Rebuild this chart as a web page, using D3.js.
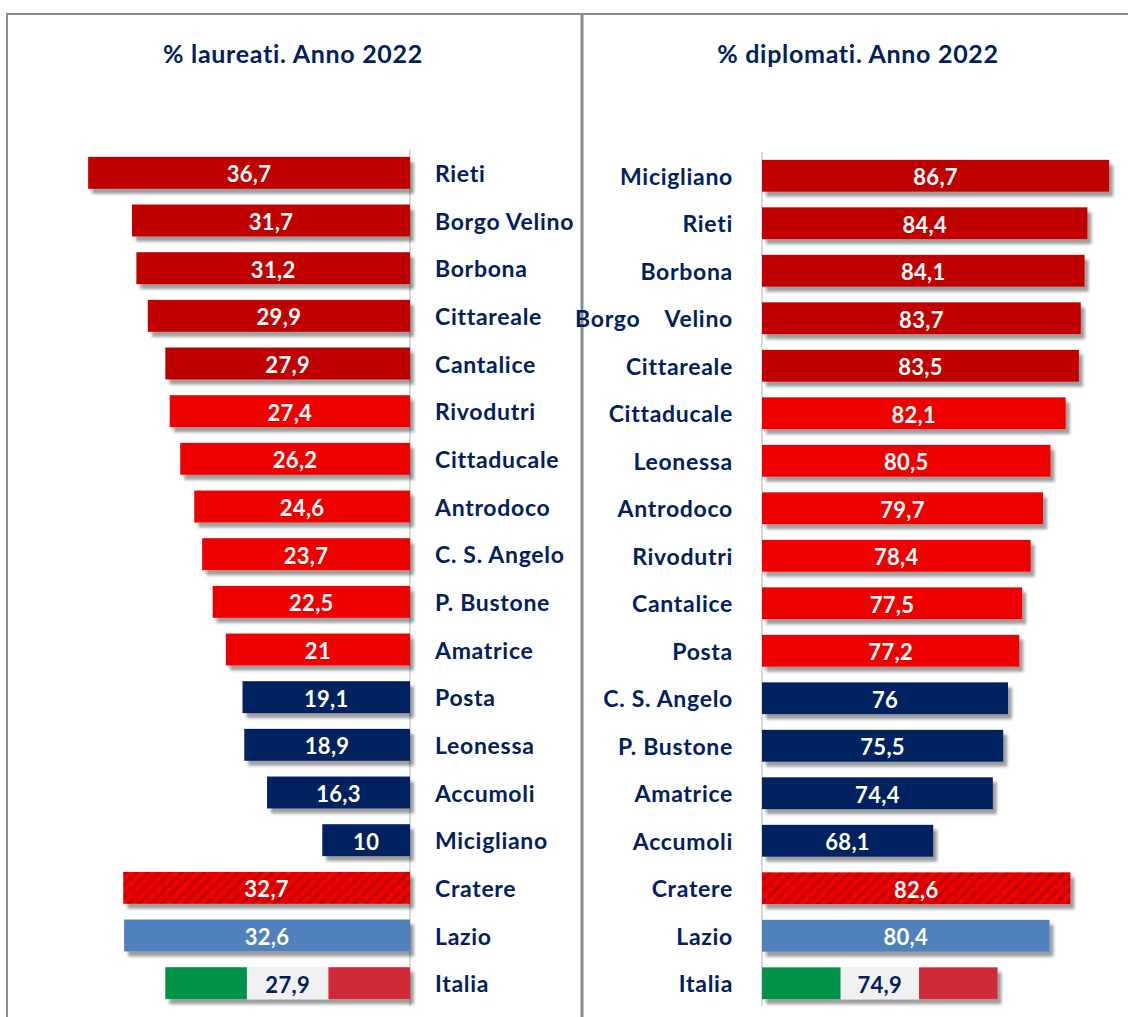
<!DOCTYPE html>
<html>
<head>
<meta charset="utf-8">
<script src="https://cdn.jsdelivr.net/npm/d3@7"></script>
<style>
  body { margin: 0; background: #fff; }
  text { font-family: Lato, "Open Sans", sans-serif; font-weight: bold; }
</style>
</head>
<body>
<div id="chart"></div>
<script>
// data: left panel (% laureati)
var laureatiCats = ["Rieti", "Borgo Velino", "Borbona", "Cittareale", "Cantalice", "Rivodutri",
  "Cittaducale", "Antrodoco", "C. S. Angelo", "P. Bustone", "Amatrice", "Posta", "Leonessa",
  "Accumoli", "Micigliano", "Cratere", "Lazio", "Italia"];
var laureatiVals = [36.7, 31.7, 31.2, 29.9, 27.9, 27.4, 26.2, 24.6, 23.7, 22.5, 21, 19.1, 18.9,
  16.3, 10, 32.7, 32.6, 27.9];

// data: right panel (% diplomati)
var diplomatiCats = ["Micigliano", "Rieti", "Borbona", "Borgo    Velino", "Cittareale", "Cittaducale",
  "Leonessa", "Antrodoco", "Rivodutri", "Cantalice", "Posta", "C. S. Angelo", "P. Bustone",
  "Amatrice", "Accumoli", "Cratere", "Lazio", "Italia"];
var diplomatiVals = [86.7, 84.4, 84.1, 83.7, 83.5, 82.1, 80.5, 79.7, 78.4, 77.5, 77.2, 76, 75.5,
  74.4, 68.1, 82.6, 80.4, 74.9];

// colour group of each row (same order on both panels)
var rowGroups = ["alto", "alto", "alto", "alto", "alto", "medio", "medio", "medio", "medio", "medio",
  "medio", "basso", "basso", "basso", "basso", "cratere", "lazio", "italia"];

var titles = ["% laureati. Anno 2022", "% diplomati. Anno 2022"];

var W = 1128, H = 1017;
var navy = "#002060";

var color = d3.scaleOrdinal()
  .domain(["alto", "medio", "basso", "cratere", "lazio"])
  .range(["#c00000", "#ee0000", navy, "url(#hatch)", "#4f81bd"]);

var svg = d3.select("#chart").append("svg")
  .attr("width", W)
  .attr("height", H);

var defs = svg.append("defs");

// drop shadow like the excel bars
var f = defs.append("filter").attr("id", "shadow")
  .attr("x", "-10%").attr("y", "-30%").attr("width", "130%").attr("height", "190%");
f.append("feDropShadow")
  .attr("dx", 4).attr("dy", 5).attr("stdDeviation", 1.6)
  .attr("flood-color", "#000").attr("flood-opacity", 0.38);

// hatch for Cratere
var pat = defs.append("pattern").attr("id", "hatch")
  .attr("patternUnits", "userSpaceOnUse")
  .attr("width", 8).attr("height", 8)
  .attr("patternTransform", "rotate(45)");
pat.append("rect").attr("width", 8).attr("height", 8).attr("fill", "#ee0000");
pat.append("line").attr("x1", 1.5).attr("y1", 0).attr("x2", 1.5).attr("y2", 8)
  .attr("stroke", "#c00000").attr("stroke-width", 3);

// frame
svg.append("line").attr("x1", 6).attr("x2", W).attr("y1", 14).attr("y2", 14)
  .attr("stroke", "#8c8c8c").attr("stroke-width", 2);
svg.append("line").attr("x1", 7).attr("x2", 7).attr("y1", 14).attr("y2", H)
  .attr("stroke", "#8c8c8c").attr("stroke-width", 2);
svg.append("line").attr("x1", 582).attr("x2", 582).attr("y1", 14).attr("y2", H)
  .attr("stroke", "#8c8c8c").attr("stroke-width", 3);

// titles
svg.selectAll(".title")
  .data(titles)
  .enter()
  .append("text")
    .attr("class", "title")
    .attr("x", function(d, i) { return i == 0 ? 293 : 858; })
    .attr("y", 53)
    .attr("text-anchor", "middle")
    .attr("dominant-baseline", "central")
    .attr("fill", navy)
    .style("font-size", "25px")
    .style("letter-spacing", "0.7px")
    .text(function(d) { return d; });

function fmt(v) { return String(v).replace(".", ","); }

function drawPanel(cats, vals, side) {
  var left = side == "left";
  var data = cats.map(function(c, i) { return {cat: c, val: vals[i], group: rowGroups[i]}; });

  var x = d3.scaleLinear()
    .domain(left ? [0, 40] : [50, 90])
    .range(left ? [410, 59.2] : [762, 1140.4]);

  var y = d3.scaleBand()
    .domain(cats)
    .range(left ? [149, 1007] : [152, 1007])
    .paddingInner(0.33)
    .paddingOuter(0.165);

  var g = svg.append("g");

  // axis line
  g.append("line")
    .attr("x1", x.range()[0]).attr("x2", x.range()[0])
    .attr("y1", y.range()[0]).attr("y2", 1006)
    .attr("stroke", "#d9d9d9").attr("stroke-width", 2);

  var x0 = x.domain()[0];
  function barX(d) { return Math.min(x(x0), x(d.val)); }
  function barW(d) { return Math.abs(x(d.val) - x(x0)); }

  var normal = data.filter(function(d) { return d.group != "italia"; });
  g.selectAll(".bar")
    .data(normal)
    .enter()
    .append("rect")
      .attr("class", "bar")
      .attr("x", barX)
      .attr("y", function(d) { return y(d.cat); })
      .attr("width", barW)
      .attr("height", y.bandwidth())
      .attr("fill", function(d) { return color(d.group); })
      .attr("filter", "url(#shadow)");

  // italia: tricolore bar
  var it = data.filter(function(d) { return d.group == "italia"; })[0];
  var ig = g.append("g").attr("filter", "url(#shadow)");
  ["#009246", "#f1f1f1", "#ce2b37"].forEach(function(c, k) {
    ig.append("rect")
      .attr("x", barX(it) + k * barW(it) / 3)
      .attr("y", y(it.cat))
      .attr("width", barW(it) / 3 + (k < 2 ? 0.5 : 0))
      .attr("height", y.bandwidth())
      .attr("fill", c);
  });

  // values inside bars
  g.selectAll(".val")
    .data(data)
    .enter()
    .append("text")
      .attr("class", "val")
      .attr("x", function(d) { return barX(d) + barW(d) / 2; })
      .attr("y", function(d) { return y(d.cat) + y.bandwidth() / 2 + 1; })
      .attr("text-anchor", "middle")
      .attr("dominant-baseline", "central")
      .attr("fill", function(d) { return d.group == "italia" ? navy : "#fff"; })
      .style("font-size", "22px")
      .style("letter-spacing", "0.3px")
      .text(function(d) { return fmt(d.val); });

  // category labels
  g.selectAll(".lab")
    .data(data)
    .enter()
    .append("text")
      .attr("class", "lab")
      .attr("x", left ? 435 : 733)
      .attr("y", function(d) { return y(d.cat) + y.bandwidth() / 2; })
      .attr("text-anchor", left ? "start" : "end")
      .attr("dominant-baseline", "central")
      .attr("fill", navy)
      .style("font-size", "23px")
      .style("letter-spacing", "0.7px")
      .style("white-space", "pre")
      .text(function(d) { return d.cat; });
}

drawPanel(laureatiCats, laureatiVals, "left");
drawPanel(diplomatiCats, diplomatiVals, "right");
</script>
</body>
</html>
